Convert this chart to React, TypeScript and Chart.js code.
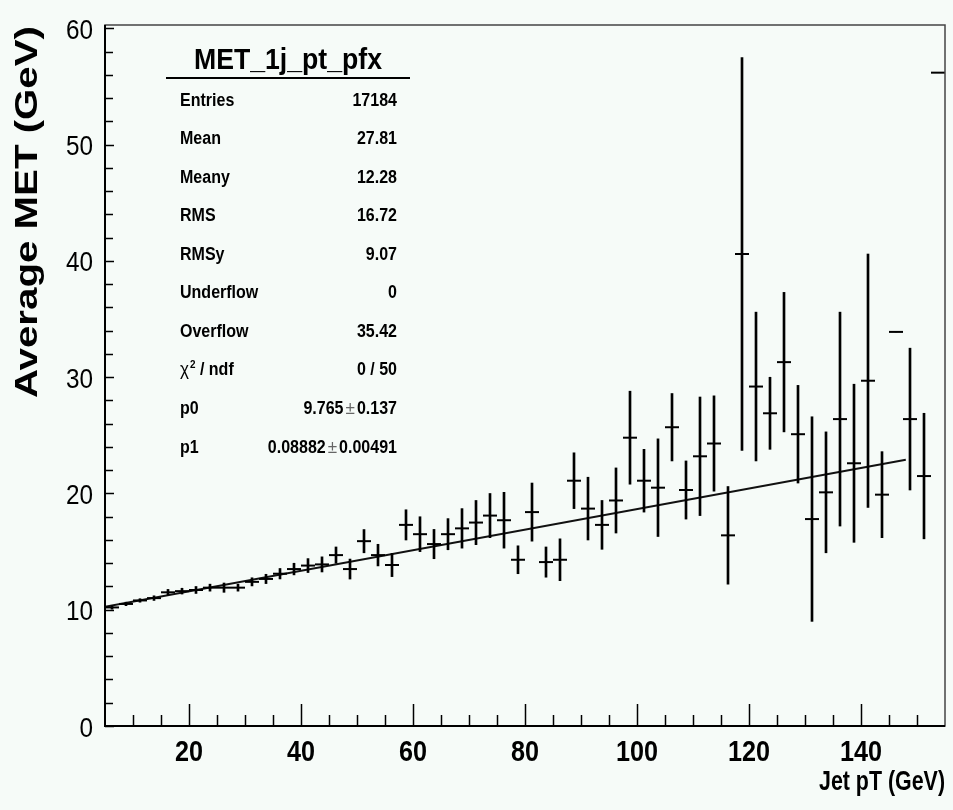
import React, { useEffect, useRef } from "react";
import { Chart, registerables } from "chart.js";

Chart.register(...registerables);

// ---------------- data ----------------
const binCenters = [
  6.25, 8.75, 11.25, 13.75, 16.25, 18.75, 21.25, 23.75, 26.25, 28.75,
  31.25, 33.75, 36.25, 38.75, 41.25, 43.75, 46.25, 48.75, 51.25, 53.75,
  56.25, 58.75, 61.25, 63.75, 66.25, 68.75, 71.25, 73.75, 76.25, 78.75,
  81.25, 83.75, 86.25, 88.75, 91.25, 93.75, 96.25, 98.75, 101.25, 103.75,
  106.25, 108.75, 111.25, 113.75, 116.25, 118.75, 121.25, 123.75, 126.25, 128.75,
  131.25, 133.75, 136.25, 138.75, 141.25, 143.75, 146.25, 148.75, 151.25, 153.75,
];
const binHalfWidth = 1.25;

const meanMET = [
  10.2, 10.5, 10.8, 11.0, 11.5, 11.6, 11.7, 11.9, 11.9, 11.9,
  12.4, 12.65, 13.1, 13.5, 13.8, 13.9, 14.7, 13.5, 15.9, 14.7,
  13.85, 17.3, 16.5, 15.65, 16.5, 17.0, 17.5, 18.1, 17.7, 14.3,
  18.4, 14.1, 14.3, 21.1, 18.7, 17.3, 19.4, 24.8, 21.1, 20.5,
  25.7, 20.3, 23.2, 24.3, 16.4, 40.6, 29.2, 26.9, 31.3, 25.1,
  17.8, 20.1, 26.4, 22.6, 29.7, 19.9, 33.9, 26.4, 21.5, 56.2,
];
const errMET = [
  0.15, 0.15, 0.15, 0.2, 0.25, 0.25, 0.3, 0.3, 0.4, 0.3,
  0.35, 0.4, 0.45, 0.5, 0.6, 0.65, 0.7, 0.86, 1.0, 0.93,
  1.0, 1.3, 1.5, 1.26, 1.34, 1.7, 1.9, 1.9, 2.4, 1.2,
  2.5, 1.3, 1.8, 2.4, 2.7, 2.1, 2.8, 4.0, 2.7, 4.2,
  2.9, 2.5, 5.1, 4.1, 4.2, 16.9, 6.4, 3.1, 6.0, 4.2,
  8.8, 5.2, 9.2, 6.8, 10.9, 3.7, 0, 6.1, 5.4, 0,
];

const fitX = [5, 148];
const fitY = [10.25, 22.9];

const xMajorTicks = [20, 40, 60, 80, 100, 120, 140];
const xMinorTicks = [10, 15, 25, 30, 35, 45, 50, 55, 65, 70, 75, 85, 90, 95, 105, 110, 115, 125, 130, 135, 145, 150];
const yMajorTicks = [0, 10, 20, 30, 40, 50, 60];
const yMinorTicks = [2, 4, 6, 8, 12, 14, 16, 18, 22, 24, 26, 28, 32, 34, 36, 38, 42, 44, 46, 48, 52, 54, 56, 58];

const xTitle = "Jet pT (GeV)";
const yTitle = "Average MET (GeV)";
const statsTitle = "MET_1j_pt_pfx";
const statsLabels = ["Entries", "Mean", "Meany", "RMS", "RMSy", "Underflow", "Overflow", "χ² / ndf", "p0", "p1"];
const statsValues = ["17184", "27.81", "12.28", "16.72", "9.07", "0", "35.42", "0 / 50", "9.765 ± 0.137", "0.08882 ± 0.00491"];

// ---------------- styling helpers ----------------
const BG = "#f6fbf8";
const FONT = "'Liberation Sans', Arial, Helvetica, sans-serif";

function setFont(ctx: CanvasRenderingContext2D, size: number, bold: boolean) {
  ctx.font = `${bold ? "bold " : ""}${size}px ${FONT}`;
}
function textW(ctx: CanvasRenderingContext2D, s: string, size: number, bold: boolean, sx: number) {
  ctx.save();
  setFont(ctx, size, bold);
  const w = ctx.measureText(s).width * sx;
  ctx.restore();
  return w;
}
function drawText(
  ctx: CanvasRenderingContext2D,
  s: string,
  x: number,
  y: number,
  size: number,
  bold: boolean,
  align: CanvasTextAlign,
  sx: number,
  color = "#000",
  rot = 0
) {
  ctx.save();
  setFont(ctx, size, bold);
  ctx.fillStyle = color;
  ctx.textAlign = align;
  ctx.textBaseline = "alphabetic";
  ctx.translate(x, y);
  if (rot) ctx.rotate(rot);
  ctx.scale(sx, 1);
  ctx.fillText(s, 0, 0);
  ctx.restore();
}

const rootPlugin = {
  id: "rootDecor",
  beforeDraw(chart: any) {
    const { ctx, width, height } = chart;
    ctx.save();
    ctx.fillStyle = BG;
    ctx.fillRect(0, 0, width, height);
    ctx.restore();
  },
  afterDatasetsDraw(chart: any) {
    const ctx: CanvasRenderingContext2D = chart.ctx;
    const a = chart.chartArea;
    const xs = chart.scales.x;
    const ys = chart.scales.y;

    // frame
    ctx.save();
    ctx.strokeStyle = "#444";
    ctx.lineWidth = 1.5;
    ctx.strokeRect(a.left, a.top, a.right - a.left, a.bottom - a.top);
    ctx.strokeStyle = "#000";
    ctx.lineWidth = 2;
    ctx.beginPath();
    ctx.moveTo(a.left, a.top);
    ctx.lineTo(a.left, a.bottom);
    ctx.lineTo(a.right, a.bottom);
    ctx.stroke();

    // ticks (drawn inward, ROOT style)
    ctx.lineWidth = 1.5;
    ctx.beginPath();
    for (const v of xMajorTicks) {
      const p = Math.round(xs.getPixelForValue(v)) + 0.5;
      ctx.moveTo(p, a.bottom);
      ctx.lineTo(p, a.bottom - 22);
    }
    for (const v of xMinorTicks) {
      const p = Math.round(xs.getPixelForValue(v)) + 0.5;
      ctx.moveTo(p, a.bottom);
      ctx.lineTo(p, a.bottom - 11);
    }
    for (const v of yMajorTicks) {
      const p = Math.round(ys.getPixelForValue(v)) + 0.5;
      ctx.moveTo(a.left, p);
      ctx.lineTo(a.left + 9, p);
    }
    for (const v of yMinorTicks) {
      const p = Math.round(ys.getPixelForValue(v)) + 0.5;
      ctx.moveTo(a.left, p);
      ctx.lineTo(a.left + 8, p);
    }
    ctx.stroke();
    ctx.restore();

    // tick labels
    for (const v of xMajorTicks) {
      drawText(ctx, String(v), xs.getPixelForValue(v), a.bottom + 35, 30, true, "center", 0.84);
    }
    for (const v of yMajorTicks) {
      drawText(ctx, String(v), a.left - 12, ys.getPixelForValue(v) + 10.5, 27, false, "right", 0.9);
    }

    // axis titles
    {
      const target = 126;
      const w = textW(ctx, xTitle, 27, true, 1);
      drawText(ctx, xTitle, a.right, 790, 27, true, "right", target / w);
    }
    {
      const target = 372;
      const w = textW(ctx, yTitle, 31, true, 1);
      drawText(ctx, yTitle, 37, 212, 31, true, "center", target / w, "#000", -Math.PI / 2);
    }

    // statistics box
    {
      const w = textW(ctx, statsTitle, 29, true, 1);
      drawText(ctx, statsTitle, 288, 69, 29, true, "center", 188 / w);
      ctx.save();
      ctx.strokeStyle = "#000";
      ctx.lineWidth = 2;
      ctx.beginPath();
      ctx.moveTo(166, 78);
      ctx.lineTo(410, 78);
      ctx.stroke();
      ctx.restore();

      const sx = 0.89;
      const fs = 18;
      const lx = 180;
      const rx = 397;
      statsLabels.forEach((lab, i) => {
        const by = 105.5 + 38.56 * i;
        if (lab.startsWith("χ")) {
          drawText(ctx, "χ", lx, by, fs, false, "left", 0.95);
          const wc = textW(ctx, "χ", fs, false, 0.95);
          drawText(ctx, "2", lx + wc + 1, by - 7, 11, true, "left", 0.9);
          const w2 = textW(ctx, "2", 11, true, 0.9);
          drawText(ctx, lab.slice(2), lx + wc + 1 + w2, by, fs, true, "left", sx);
        } else {
          drawText(ctx, lab, lx, by, fs, true, "left", sx);
        }
        const val = statsValues[i];
        if (val.includes("±")) {
          const [va, vb] = val.split(" ± ");
          let xr = rx;
          drawText(ctx, vb, xr, by, fs, true, "right", sx);
          xr -= textW(ctx, vb, fs, true, sx) + 2;
          drawText(ctx, "±", xr, by, fs, false, "right", 0.95, "#666");
          xr -= textW(ctx, "±", fs, false, 0.95) + 2;
          drawText(ctx, va, xr, by, fs, true, "right", sx);
        } else {
          drawText(ctx, val, rx, by, fs, true, "right", sx);
        }
      });
    }
  },
};

export default function App() {
  const ref = useRef<HTMLCanvasElement | null>(null);

  useEffect(() => {
    document.body.style.margin = "0";
    document.body.style.background = BG;
    const canvas = ref.current;
    if (!canvas) return;

    const errorBars = binCenters.map((c, i) => ({
      x: c,
      y: [meanMET[i] - errMET[i], meanMET[i] + errMET[i]],
    }));
    const binMarks = binCenters.map((c, i) => ({ x: c, y: meanMET[i] }));
    const fitLine = fitX.map((x, i) => ({ x, y: fitY[i] }));

    const chart = new Chart(canvas, {
      type: "scatter",
      data: {
        datasets: [
          {
            type: "bar",
            label: "error",
            data: errorBars as any,
            backgroundColor: "#000",
            borderWidth: 0,
            barThickness: 2,
          } as any,
          {
            type: "scatter",
            label: "profile",
            data: binMarks,
            pointStyle: "line",
            pointRadius: (c: any) => {
              const s = c.chart.scales.x;
              return Math.abs(s.getPixelForValue(binHalfWidth) - s.getPixelForValue(0));
            },
            pointBorderWidth: 2,
            pointBorderColor: "#000",
            pointBackgroundColor: "#000",
            showLine: false,
          } as any,
          {
            type: "line",
            label: "fit",
            data: fitLine,
            borderColor: "#111",
            borderWidth: 2,
            pointRadius: 0,
            tension: 0,
            fill: false,
          } as any,
        ],
      },
      options: {
        responsive: false,
        devicePixelRatio: 1,
        animation: false,
        events: [],
        layout: { padding: { top: 25, right: 8, left: 0, bottom: 0 } },
        plugins: {
          legend: { display: false },
          tooltip: { enabled: false },
          title: { display: false },
        },
        scales: {
          x: {
            type: "linear",
            min: 5,
            max: 155,
            offset: false,
            grid: { display: false, drawTicks: false },
            border: { display: false },
            ticks: { display: false },
            afterFit: (s: any) => {
              s.height = 84;
            },
          },
          y: {
            type: "linear",
            min: 0,
            max: 60.3,
            grid: { display: false, drawTicks: false },
            border: { display: false },
            ticks: { display: false },
            afterFit: (s: any) => {
              s.width = 105;
            },
          },
        },
      } as any,
      plugins: [rootPlugin as any],
    });

    return () => chart.destroy();
  }, []);

  return (
    <div style={{ position: "absolute", left: 0, top: 0, width: 953, height: 810, background: BG }}>
      <canvas ref={ref} width={953} height={810} style={{ display: "block" }} />
    </div>
  );
}
